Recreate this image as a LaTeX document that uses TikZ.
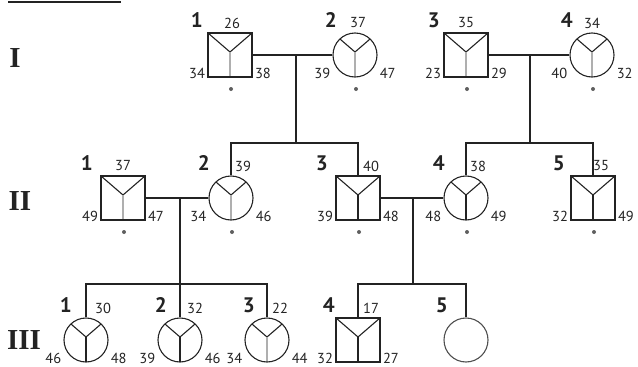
\documentclass[tikz,border=0pt]{standalone}
\usepackage{fontspec}
\setmainfont{Liberation Serif}
\newfontfamily\pedfont{PT Sans}
\usepackage{tikz}
\usetikzlibrary{calc}
\definecolor{pedblack}{RGB}{35,35,35}
\definecolor{pedgray}{RGB}{175,175,175}
\definecolor{dotgray}{RGB}{95,95,95}

\tikzset{
  ind/.style={minimum size=44pt, inner sep=0pt, draw=pedblack},
  man/.style={ind, rectangle, line width=1.6pt},
  woman/.style={ind, circle, line width=1.1pt},
  ysym/.style={path picture={
    \draw[pedblack, line width=1.1pt] (path picture bounding box.north west)
      -- ($(path picture bounding box.center)+(0,3pt)$) -- (path picture bounding box.north east);
    \draw[#1, line width=1.1pt] ($(path picture bounding box.center)+(0,3pt)$)
      -- (path picture bounding box.south);}},
  rel/.style={line width=1.6pt, draw=pedblack},
  idnum/.style={font=\pedfont\bfseries\fontsize{21}{21}\selectfont, text=pedblack, inner sep=0pt},
  val/.style={font=\pedfont\fontsize{14.5}{14.5}\selectfont, text=pedblack, inner sep=0pt},
  gen/.style={font=\bfseries\fontsize{29}{29}\selectfont, text=pedblack, inner sep=0pt}
}

% name, position, style, number, number shift, top value, top shift, left value, right value
\newcommand{\person}[9]{%
  \node[#3] (#1) at (#2) {};
  \node[idnum, anchor=east] (#1num) at ($(#1)+(#5,-35)$) {#4};
  \node[val] (#1top) at ($(#1)+(#7,-32)$) {#6};
  \node[val, anchor=east] (#1left) at ($(#1.west)+(-2,18)$) {#8};
  \node[val, anchor=west] (#1right) at ($(#1.east)+(2,18)$) {#9};
}
\newcommand{\sampledot}[1]{\fill[dotgray] ($(#1)+(1,34)$) circle (2pt);}

\begin{document}
\begin{tikzpicture}[x=1pt, y=-1pt]
\useasboundingbox (0,0) rectangle (638,367);
\draw[pedblack, line width=1.4pt] (8,2) -- (121,2);

% generations
\node[gen] (gI) at (15,58) {I};
\node[gen] (gII) at (20,201) {II};
\node[gen] (gIII) at (24,340) {III};

% generation I
\person{I1}{230,55}{man, ysym=pedgray}{1}{-27}{26}{2}{34}{38}
\person{I2}{355,55}{woman, ysym=pedgray}{2}{-18}{37}{3}{39}{47}
\person{I3}{466,55}{man, ysym=pedgray}{3}{-26}{35}{0}{23}{29}
\person{I4}{592,55}{woman, ysym=pedgray}{4}{-19}{34}{0}{40}{32}

% generation II
\person{II1}{123,198}{man, ysym=pedgray}{1}{-30}{37}{0}{49}{47}
\person{II2}{231,198}{woman, ysym=pedgray}{2}{-21}{39}{12}{34}{46}
\person{II3}{358,198}{man, ysym=pedblack}{3}{-30}{40}{13}{39}{48}
\person{II4}{466,198}{woman, ysym=pedblack}{4}{-21}{38}{12}{48}{49}
\person{II5}{593,198}{man, ysym=pedblack}{5}{-28}{35}{8}{32}{49}

% generation III
\person{III1}{86,340}{woman, ysym=pedblack}{1}{-14}{30}{17}{46}{48}
\person{III2}{180,340}{woman, ysym=pedblack}{2}{-13}{32}{15}{39}{46}
\person{III3}{267,340}{woman, ysym=pedgray}{3}{-12}{22}{13}{34}{44}
\person{III4}{358,340}{man, ysym=pedblack}{4}{-23}{17}{13}{32}{27}
\node[woman, draw=pedblack!80] (III5) at (466,340) {};
\node[idnum, anchor=east] (III5num) at ($(III5)+(-18,-35)$) {5};

\sampledot{I1} \sampledot{I2} \sampledot{I3} \sampledot{I4}
\sampledot{II1} \sampledot{II2} \sampledot{II3} \sampledot{II4} \sampledot{II5}

% couples
\draw[rel] (I1) -- (I2);
\draw[rel] (I3) -- (I4);
\draw[rel] (II1) -- (II2);
\draw[rel] (II3) -- (II4);

% sibships
\coordinate (s1) at (296,143);
\coordinate (m1) at (s1 |- I1);
\draw[rel] (m1) -- (s1);
\draw[rel] (II2.north) |- (s1) -| (II3.north);

\coordinate (s2) at (530,143);
\coordinate (m2) at (s2 |- I3);
\draw[rel] (m2) -- (s2);
\draw[rel] (II4.north) |- (s2) -| (II5.north);

\coordinate (s3) at (180,284);
\coordinate (m3) at (s3 |- II1);
\draw[rel] (m3) -- (III2.north);
\draw[rel] (III1.north) |- (s3) -| (III3.north);

\coordinate (s4) at (413,284);
\coordinate (m4) at (s4 |- II3);
\draw[rel] (m4) -- (s4);
\draw[rel] (III4.north) |- (s4) -| (III5.north);
\end{tikzpicture}
\end{document}
